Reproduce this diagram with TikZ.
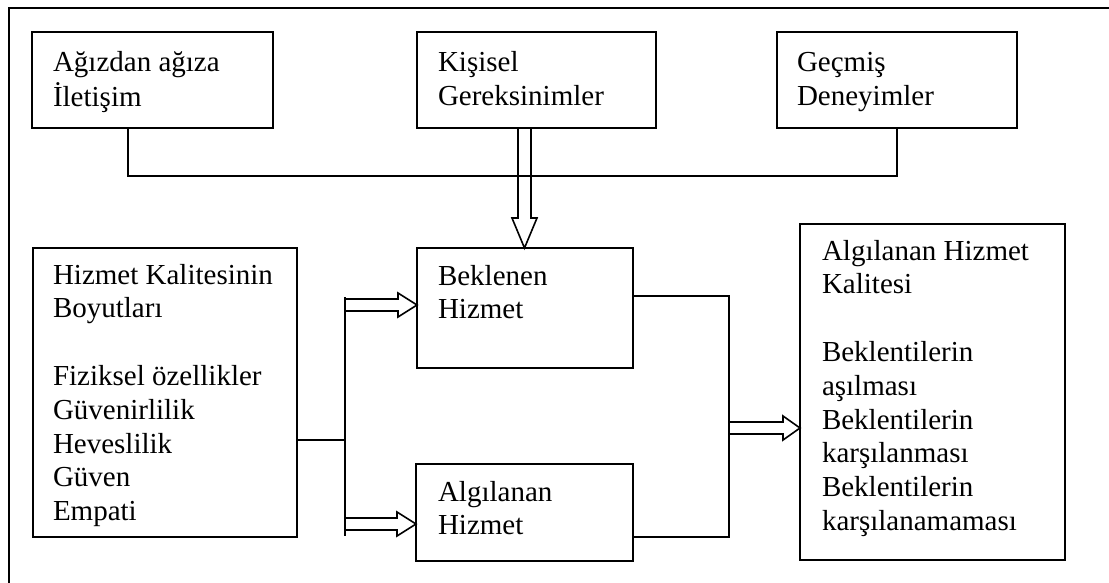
\documentclass[tikz,border=0pt]{standalone}
\usepackage{fontspec}
\setmainfont{Liberation Serif}
\usetikzlibrary{calc}
\tikzset{
  box/.style={draw, line width=1.6pt, rectangle, inner sep=0pt, outer sep=0pt},
  txt/.style={anchor=base west, inner sep=0pt, outer sep=0pt, font=\fontsize{29}{33.8}\selectfont},
  conn/.style={draw, line width=1.6pt},
}
\newcommand\lines[1]{\begin{tabular}[t]{@{}l@{}}#1\end{tabular}}
% hollow horizontal arrow: start, tip, shaft half width, head half width, head length
\newcommand\harrow[5]{\draw[line width=1.6pt, line join=miter] let \p1=(#1), \p2=(#2) in
  (\x1,\y1+#3) -- (\x2-#5,\y1+#3) -- (\x2-#5,\y1+#4) -- (\x2,\y1) -- (\x2-#5,\y1-#4) -- (\x2-#5,\y1-#3) -- (\x1,\y1-#3);}
\newcommand\varrow[5]{\draw[line width=1.6pt, line join=miter] let \p1=(#1), \p2=(#2) in
  (\x1+#3,\y1) -- (\x1+#3,\y2+#5) -- (\x1+#4,\y2+#5) -- (\x1,\y2) -- (\x1-#4,\y2+#5) -- (\x1-#3,\y2+#5) -- (\x1-#3,\y1);}
\begin{document}
\begin{tikzpicture}[x=1pt,y=-1pt]
\useasboundingbox (0,0) rectangle (1109,583);
% outer frame (right and bottom sides fall outside the picture)
\draw[line width=1.6pt] (9,600) -- (9,8) -- (1120,8);

% boxes
\node[box, minimum width=241pt, minimum height=96pt] (b1) at (152.5,80) {};
\node[box, minimum width=239pt, minimum height=96pt] (b2) at (536.5,80) {};
\node[box, minimum width=240pt, minimum height=96pt] (b3) at (897,80) {};
\node[box, minimum width=264pt, minimum height=289pt] (hk) at (165,392.5) {};
\node[box, minimum width=216pt, minimum height=120pt] (bh) at (525,308) {};
\node[box, minimum width=217pt, minimum height=97pt] (ah) at (524.5,512.5) {};
\node[box, minimum width=265pt, minimum height=336pt] (ak) at (932.5,392) {};

% texts
\node[txt] (t1) at (53,72) {\lines{Ağızdan ağıza\\İletişim}};
\node[txt] (t2) at (438,72) {\lines{Kişisel\\Gereksinimler}};
\node[txt] (t3) at (797,72) {\lines{Geçmiş\\Deneyimler}};
\node[txt] (t4) at (53,284) {\lines{Hizmet Kalitesinin\\Boyutları\\ \\Fiziksel özellikler\\Güvenirlilik\\Heveslilik\\Güven\\Empati}};
\node[txt] (t5) at (438,285) {\lines{Beklenen\\Hizmet}};
\node[txt] (t6) at (438,501) {\lines{Algılanan\\Hizmet}};
\node[txt] (t7) at (822,260) {\lines{Algılanan Hizmet\\Kalitesi\\ \\Beklentilerin\\aşılması\\Beklentilerin\\karşılanması\\Beklentilerin\\karşılanamaması}};

% top connector
\coordinate (c1) at (128,176);
\coordinate (c3) at (897,176);
\draw[conn] (b1.south -| c1) -- (c1) -- (c3) -- (b3.south -| c3);
\coordinate (va) at (524.5,128);
\varrow{b2.south -| va}{bh.north -| va}{6.5pt}{12.5pt}{30pt}

% left connector
\coordinate (jt) at (345,297);
\coordinate (jm) at (345,440);
\coordinate (jb) at (345,536);
\coordinate (s1) at (345,305);
\coordinate (s2) at (345,524);
\draw[conn] (hk.east |- jm) -- (jm);
\draw[conn] (jt) -- (jb);
\harrow{s1}{bh.west |- s1}{6pt}{12pt}{19pt}
\harrow{s2}{ah.west |- s2}{6pt}{12pt}{19pt}

% right connector
\coordinate (rt) at (729,296);
\coordinate (rb) at (729,537);
\coordinate (rm) at (729,428);
\draw[conn] (bh.east |- rt) -- (rt) -- (rb) -- (ah.east |- rb);
\harrow{rm}{ak.west |- rm}{6pt}{12pt}{17pt}
\end{tikzpicture}
\end{document}
